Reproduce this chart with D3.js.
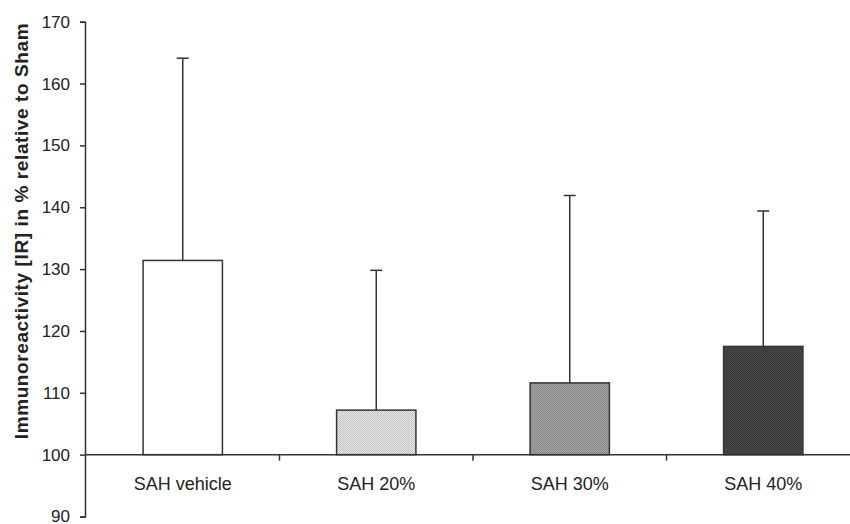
<!DOCTYPE html>
<html>
<head>
  <meta charset="utf-8">
  <title>Immunoreactivity</title>
  <style>
    body { margin: 0; background: #fff; }
    text { font-family: 'Liberation Sans', Arial, sans-serif; fill: #222; }
  </style>
  <script src="https://cdn.jsdelivr.net/npm/d3@7"></script>
</head>
<body>
  <svg id="chart" width="850" height="524"></svg>
  <script>
    // values
    var groups = ["SAH vehicle", "SAH 20%", "SAH 30%", "SAH 40%"];
    var means = [131.4, 107.2, 111.6, 117.5];
    var upper = [164.1, 129.8, 141.9, 139.4];
    var yTicks = [90, 100, 110, 120, 130, 140, 150, 160, 170];

    var svg = d3.select("#chart");
    var defs = svg.append("defs");

    // dotted fills like the printed hatching
    var tones = [["#fff", "#fff"], ["#e2e2e2", "#c8c8c8"], ["#a2a2a2", "#8a8a8a"], ["#4a4a4a", "#363636"]];
    tones.forEach(function (t, i) {
      var p = defs.append("pattern").attr("id", "fill" + i)
        .attr("width", 2).attr("height", 2).attr("patternUnits", "userSpaceOnUse");
      p.append("rect").attr("width", 2).attr("height", 2).attr("fill", t[0]);
      p.append("rect").attr("width", 1).attr("height", 1).attr("fill", t[1]);
      p.append("rect").attr("x", 1).attr("y", 1).attr("width", 1).attr("height", 1).attr("fill", t[1]);
    });

    var x = d3.scaleBand().domain(groups).range([86, 860]).paddingInner(0.59).paddingOuter(0.295);
    var y = d3.scaleLinear().domain([90, 170]).range([516.5, 21.7]);
    var axisX = 85, base = y(100);

    // y axis
    var ya = svg.append("g").attr("transform", "translate(" + axisX + ",0)")
      .call(d3.axisLeft(y).tickValues(yTicks).tickSize(5).tickPadding(10));
    ya.select(".domain").attr("stroke", "#333").attr("stroke-width", 1.5);
    ya.selectAll(".tick line").attr("stroke", "#333").attr("stroke-width", 1.5);
    ya.selectAll("text").attr("font-size", 17).attr("fill", "#333")
      .attr("font-family", "'Liberation Sans', Arial, sans-serif");

    svg.append("text")
      .attr("transform", "translate(28," + 231 + ") rotate(-90)")
      .attr("text-anchor", "middle")
      .attr("font-size", 19).attr("font-weight", "bold")
      .attr("letter-spacing", 0.6)
      .text("Immunoreactivity [IR] in % relative to Sham");

    // error bars (upper only)
    var err = svg.append("g").attr("stroke", "#333").attr("stroke-width", 1.5);
    groups.forEach(function (g, i) {
      var cx = x(g) + x.bandwidth() / 2;
      err.append("line").attr("x1", cx).attr("x2", cx).attr("y1", y(means[i])).attr("y2", y(upper[i]));
      err.append("line").attr("x1", cx - 6).attr("x2", cx + 6).attr("y1", y(upper[i])).attr("y2", y(upper[i]));
    });

    // bars
    svg.append("g").selectAll("rect").data(groups).join("rect")
      .attr("x", function (d) { return x(d); })
      .attr("y", function (d, i) { return y(means[i]); })
      .attr("width", x.bandwidth())
      .attr("height", function (d, i) { return base - y(means[i]); })
      .attr("fill", function (d, i) { return "url(#fill" + i + ")"; })
      .attr("stroke", "#333").attr("stroke-width", 1.5);

    // x axis sitting on 100
    svg.append("line").attr("x1", axisX).attr("x2", 850).attr("y1", base).attr("y2", base)
      .attr("stroke", "#333").attr("stroke-width", 1.5);
    groups.slice(1).forEach(function (g) {
      var bx = (x(g) + x.bandwidth() / 2) - x.step() / 2;
      svg.append("line").attr("x1", bx).attr("x2", bx).attr("y1", base).attr("y2", base + 6)
        .attr("stroke", "#333").attr("stroke-width", 1.5);
    });
    svg.append("g").selectAll("text").data(groups).join("text")
      .attr("x", function (d) { return x(d) + x.bandwidth() / 2; })
      .attr("y", 490)
      .attr("text-anchor", "middle")
      .attr("font-size", 18).attr("fill", "#333")
      .text(function (d) { return d; });
  </script>
</body>
</html>
